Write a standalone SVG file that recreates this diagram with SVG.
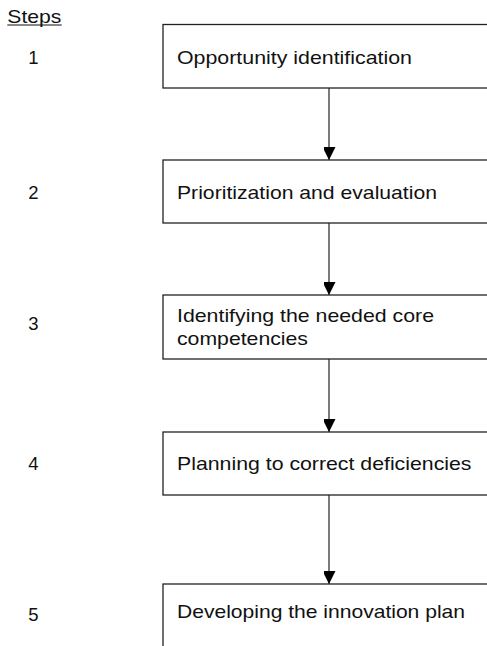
<svg xmlns="http://www.w3.org/2000/svg" width="487" height="646" viewBox="0 0 487 646">
<style>
  text { font-family: "Liberation Sans", Arial, sans-serif; font-size: 18.5px; fill: #111; }
  .box { fill: #fff; stroke: #222; stroke-width: 1.3; }
  .conn { stroke: #333; stroke-width: 1.3; fill: none; }
  .num { text-anchor: middle; }
</style>
<defs>
  <marker id="arrow" markerUnits="userSpaceOnUse" markerWidth="14" markerHeight="12" refX="13" refY="6.5" orient="auto">
    <path d="M0,0 L13,6.5 L0,13 Z" fill="#000"/>
  </marker>
</defs>
<rect width="487" height="646" fill="#fff"/>
<g id="header">
  <text x="7.3" y="22.5" textLength="54" lengthAdjust="spacingAndGlyphs">Steps</text>
  <line x1="7.3" y1="25" x2="61.7" y2="25" stroke="#111" stroke-width="1.1"/>
</g>
<g id="numbers">
  <text class="num" x="33.5" y="63.5">1</text>
  <text class="num" x="33.5" y="198.5">2</text>
  <text class="num" x="33.5" y="330">3</text>
  <text class="num" x="33.5" y="469.5">4</text>
  <text class="num" x="33.5" y="621">5</text>
</g>
<g id="connectors">
  <line class="conn" x1="329" y1="88" x2="329" y2="160" marker-end="url(#arrow)"/>
  <line class="conn" x1="329" y1="223" x2="329" y2="295" marker-end="url(#arrow)"/>
  <line class="conn" x1="329" y1="359" x2="329" y2="432" marker-end="url(#arrow)"/>
  <line class="conn" x1="329" y1="495" x2="329" y2="584" marker-end="url(#arrow)"/>
</g>
<g id="step1">
  <rect class="box" x="163" y="24.5" width="340" height="63.5"/>
  <text x="177" y="63.5" textLength="235" lengthAdjust="spacingAndGlyphs">Opportunity identification</text>
</g>
<g id="step2">
  <rect class="box" x="163" y="160" width="340" height="63"/>
  <text x="177" y="198.5" textLength="260" lengthAdjust="spacingAndGlyphs">Prioritization and evaluation</text>
</g>
<g id="step3">
  <rect class="box" x="163" y="295" width="340" height="64"/>
  <text x="177" y="322" textLength="257" lengthAdjust="spacingAndGlyphs">Identifying the needed core</text>
  <text x="177" y="345" textLength="131" lengthAdjust="spacingAndGlyphs">competencies</text>
</g>
<g id="step4">
  <rect class="box" x="163" y="432" width="340" height="63"/>
  <text x="177" y="469.5" textLength="294.5" lengthAdjust="spacingAndGlyphs">Planning to correct deficiencies</text>
</g>
<g id="step5">
  <rect class="box" x="163" y="584" width="340" height="80"/>
  <text x="177" y="618" textLength="288" lengthAdjust="spacingAndGlyphs">Developing the innovation plan</text>
</g>
</svg>
